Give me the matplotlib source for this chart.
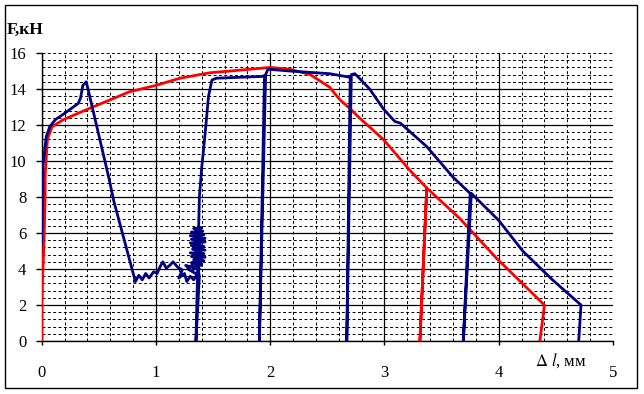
import numpy as np
import matplotlib.pyplot as plt
from matplotlib.patches import Rectangle
from matplotlib.ticker import MultipleLocator

plt.rcParams['font.family'] = ['Liberation Serif', 'DejaVu Serif']
plt.rcParams['mathtext.fontset'] = 'stix'

# red specimen (extension, mm / load, kN)
red_x = [0.0, 0.0, 0.02, 0.03, 0.03, 0.05, 0.09, 0.19, 0.41, 0.60, 0.77, 1.0, 1.21, 1.47,
         1.65, 2.0, 2.17, 2.35, 2.52, 2.61, 2.70, 2.78, 2.99, 3.22, 3.37, 3.31, 3.37,
         3.66, 3.98, 4.40, 4.36]
red_y = [0.0, 2.2, 5.5, 8.0, 9.2, 11.2, 11.9, 12.3, 12.9, 13.4, 13.85, 14.2, 14.6, 14.9,
         15.0, 15.2, 15.1, 14.8, 14.1, 13.4, 12.9, 12.4, 11.2, 9.5, 8.5, 0.0, 8.5,
         6.8, 4.6, 2.0, 0.0]

# blue specimen
blue_x = [0.0, 0.01, 0.01, 0.04, 0.07, 0.12, 0.19, 0.32, 0.34, 0.36, 0.39, 0.42, 0.59, 0.63,
          0.82, 0.85, 0.88, 0.91, 0.94, 0.98, 1.01, 1.03, 1.06, 1.09, 1.12, 1.15, 1.19, 1.23,
          1.20, 1.25, 1.27, 1.30, 1.33, 1.36, 1.28, 1.33, 1.38, 1.26, 1.31, 1.40,
          1.31, 1.40, 1.33, 1.42, 1.31, 1.43, 1.30, 1.42, 1.32, 1.43, 1.31, 1.42,
          1.30, 1.43, 1.31, 1.43, 1.30, 1.42, 1.31, 1.41, 1.33, 1.40, 1.36, 1.41,
          1.33, 1.40, 1.36, 1.38, 1.35,
          1.38, 1.40, 1.43, 1.46, 1.49, 1.53, 1.93, 1.95, 1.905, 1.96, 1.98, 2.17, 2.52,
          2.70, 2.67, 2.71, 2.74, 2.78, 2.87, 2.99, 3.09, 3.14, 3.37, 3.60, 3.75, 3.69,
          3.76, 4.0, 4.21, 4.47, 4.72, 4.70]
blue_y = [5.5, 8.4, 9.7, 11.35, 11.9, 12.3, 12.6, 13.2, 13.5, 14.2, 14.4, 13.6, 9.0, 7.8,
          3.3, 3.65, 3.4, 3.75, 3.5, 3.85, 3.75, 4.05, 4.4, 4.05, 4.2, 4.4, 4.1, 3.95,
          3.5, 3.75, 3.3, 3.6, 3.4, 3.7, 4.0, 4.3, 4.0, 4.2, 3.9, 4.3,
          4.35, 4.2, 4.5, 4.45, 4.7, 4.65, 4.9, 4.85, 5.1, 5.05, 5.3, 5.25,
          5.45, 5.5, 5.65, 5.7, 5.85, 5.9, 6.05, 6.1, 6.25, 6.3, 6.1, 5.6,
          5.2, 4.8, 4.3, 3.6, 0.0,
          8.0, 9.6, 11.5, 13.6, 14.5, 14.6, 14.7, 14.75, 0.0, 14.8, 15.1, 15.0, 14.85,
          14.65, 0.0, 14.8, 14.85, 14.6, 14.0, 12.9, 12.2, 12.1, 10.8, 9.1, 8.2, 0.0,
          8.2, 6.7, 5.0, 3.4, 2.0, 0.0]

x_ticks = [0, 1, 2, 3, 4, 5]
y_ticks = [0, 2, 4, 6, 8, 10, 12, 14, 16]

fig = plt.figure(figsize=(6.44, 3.94), dpi=100)
ax = fig.add_axes([41.7 / 644, (394 - 341) / 394, (613 - 41.7) / 644, 288 / 394])

ax.plot(red_x, red_y, color='#ff0000', lw=2.0, solid_joinstyle='round', zorder=3)
ax.plot(blue_x, blue_y, color='#000080', lw=2.0, solid_joinstyle='round', zorder=4)

ax.set_xlim(0, 5)
ax.set_ylim(0, 16)
ax.set_xticks(x_ticks)
ax.set_yticks(y_ticks)
ax.xaxis.set_minor_locator(MultipleLocator(0.2))
ax.yaxis.set_minor_locator(MultipleLocator(0.4))
ax.grid(True, which='major', color='black', lw=0.9, ls='-')
ax.grid(True, which='minor', color='black', lw=0.7, ls=(0, (3, 2.5)))
ax.set_axisbelow(True)
# top and right edges are dashed in the original
for gl in [ax.get_ygridlines()[-1], ax.get_xgridlines()[-1]]:
    gl.set_linestyle((0, (3, 2.5)))
    gl.set_linewidth(0.7)

for s in ['top', 'right']:
    ax.spines[s].set_visible(False)
for s in ['left', 'bottom']:
    ax.spines[s].set_linewidth(1.0)

ax.tick_params(which='minor', length=0)
ax.tick_params(axis='x', which='major', length=3, width=1, direction='out', pad=14, labelsize=12)
ax.tick_params(axis='y', which='major', length=4, width=1, direction='out', pad=7, labelsize=12)

fig.text(7 / 644, 1 - 30 / 394, 'F,кН', fontsize=12.5, fontweight='bold', va='center', ha='left')
fig.text(561 / 644, 1 - 361 / 394, r'$\Delta\ \mathit{l}$, мм', fontsize=12, va='center', ha='center')

fig.patches.append(Rectangle((5 / 644, 1 - 388 / 394), 632 / 644, 383 / 394,
                             transform=fig.transFigure, fill=False, ec='black', lw=1.0))

fig.savefig('out.png', dpi=100)
